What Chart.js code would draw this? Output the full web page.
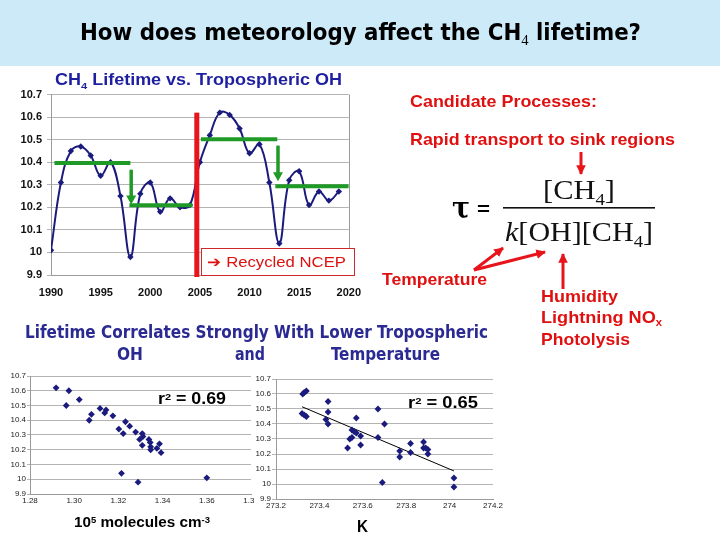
<!DOCTYPE html>
<html><head><meta charset="utf-8">
<script src="https://cdn.jsdelivr.net/npm/chart.js@4.4.0/dist/chart.umd.min.js"></script>
<style>
html,body{margin:0;padding:0;background:#fff;}
#slide{position:relative;width:720px;height:540px;overflow:hidden;background:#fff;font-family:Arial,"Liberation Sans",sans-serif;}
#band{position:absolute;left:0;top:0;width:720px;height:66px;background:#cdeaf9;}
canvas{position:absolute;}
.t{position:absolute;white-space:nowrap;transform-origin:0 50%;line-height:1.2;}
.sub{font-size:0.62em;position:relative;top:0.32em;line-height:0;}
.sup{font-size:0.62em;position:relative;top:-0.45em;line-height:0;}
#ncep{position:absolute;left:201px;top:248px;width:152px;height:26px;border:1.5px solid #cc2a2a;background:#fff;}
svg{position:absolute;left:0;top:0;}
</style></head><body>
<div id="slide">
  <div id="band"></div>
  <canvas id="main" width="372" height="217" style="left:0;top:83px"></canvas>
  <canvas id="sc1" width="262" height="142" style="left:0;top:366px"></canvas>
  <canvas id="sc2" width="258" height="144" style="left:254px;top:369px;background:#fff"></canvas>
  <div id="ncep"></div>
  <svg width="720" height="540" viewBox="0 0 720 540">
    <defs>
      <marker id="ah" viewBox="0 0 10 10" refX="9" refY="5" markerWidth="3.2" markerHeight="3.2" orient="auto">
        <path d="M0,0 L10,5 L0,10 z" fill="#e8141b"/>
      </marker>
    </defs>
    <g stroke="#e8141b" stroke-width="3" fill="none" marker-end="url(#ah)">
      <line x1="581" y1="152" x2="581" y2="174"/>
      <line x1="474" y1="270" x2="503" y2="248"/>
      <line x1="474" y1="270" x2="545" y2="252"/>
      <line x1="563" y1="289" x2="563" y2="254"/>
    </g>
    <rect x="503" y="207" width="152" height="1.6" fill="#111"/>
  </svg>
</div>
<script>
// ---------- DATA ----------
const years = [1990,1991,1992,1993,1994,1995,1996,1997,1998,1999,2000,2001,2002,2003,2004,2005,2006,2007,2008,2009,2010,2011,2012,2013,2014,2015,2016,2017,2018,2019];
const lifetime = [10.01,10.31,10.45,10.47,10.43,10.34,10.40,10.25,9.98,10.26,10.31,10.18,10.24,10.20,10.21,10.40,10.52,10.62,10.61,10.55,10.44,10.48,10.31,10.04,10.32,10.36,10.21,10.27,10.23,10.27];
const periodStart = [1990.35, 1997.9, 2005.1, 2012.6];
const periodEnd   = [1998.0, 2004.25, 2012.8, 2020];
const periodMean  = [10.397, 10.209, 10.502, 10.294];
const shiftYear = [1998.08, 2012.87];
const shiftFrom = [10.367, 10.474];
const shiftTo   = [10.213, 10.316];
const ncepYear = 2004.69;
const ncepTop = 10.62;
const mainXTicks = [1990,1995,2000,2005,2010,2015,2020];
const mainYTicks = [9.9,10.0,10.1,10.2,10.3,10.4,10.5,10.6,10.7];
const mainYLabels = ['9.9','10','10.1','10.2','10.3','10.4','10.5','10.6','10.7'];

const ohConc = [1.2918,1.2976,1.2964,1.3023,1.3117,1.3138,1.3144,1.3078,1.3068,1.3175,1.3202,1.3232,1.3251,1.3222,1.3278,1.3308,1.3311,1.3296,1.3338,1.3344,1.3308,1.3346,1.3346,1.3374,1.3386,1.3393,1.3214,1.3289,1.3600];
const ohLifetime = [10.62,10.60,10.50,10.54,10.48,10.45,10.47,10.44,10.40,10.43,10.34,10.39,10.36,10.31,10.32,10.31,10.29,10.27,10.27,10.25,10.23,10.22,10.20,10.21,10.24,10.18,10.04,9.98,10.01];
const ohTicks = [1.28,1.30,1.32,1.34,1.36,1.38];
const ohTickLabels = ['1.28','1.30','1.32','1.34','1.36','1.38'];

const temperature = [273.323,273.33,273.34,273.32,273.33,273.34,273.44,273.44,273.43,273.44,273.53,273.54,273.55,273.55,273.56,273.57,273.57,273.59,273.59,273.67,273.67,273.70,273.69,273.77,273.77,273.82,273.82,273.88,273.88,273.89,273.90,273.90,274.02,274.02];
const tLifetime = [10.60,10.61,10.62,10.47,10.46,10.45,10.55,10.48,10.43,10.40,10.24,10.30,10.31,10.36,10.35,10.34,10.44,10.32,10.26,10.50,10.31,10.40,10.01,10.22,10.18,10.27,10.21,10.28,10.24,10.24,10.23,10.20,10.04,9.98];
const trendX = [273.32, 274.02];
const trendY = [10.515, 10.087];
const tTicks = [273.2,273.4,273.6,273.8,274.0,274.2];
const tTickLabels = ['273.2','273.4','273.6','273.8','274','274.2'];

const scYTicks = mainYTicks;
const scYLabels = mainYLabels;

// ---------- STYLE ----------
const NAVY = '#1b1b7d';
const GREEN = '#1f9a26';
const RED = '#e8141b';
const GRID = '#b4b4b4';

// ---------- MAIN CHART ----------
const mainPlugin = {
  id:'mainDecor',
  afterDatasetsDraw(chart){
    const {ctx, chartArea:a, scales:{x, y}} = chart;
    ctx.save();
    // right frame
    ctx.strokeStyle = '#9a9a9a'; ctx.lineWidth = 1;
    ctx.beginPath(); ctx.moveTo(Math.round(a.right)+0.5, a.top); ctx.lineTo(Math.round(a.right)+0.5, a.bottom); ctx.stroke();
    // green shift arrows
    ctx.strokeStyle = GREEN; ctx.fillStyle = GREEN; ctx.lineWidth = 3.5;
    shiftYear.forEach((yr, i) => {
      const px = x.getPixelForValue(yr);
      const y1 = y.getPixelForValue(shiftFrom[i]);
      const y2 = y.getPixelForValue(shiftTo[i]);
      ctx.beginPath(); ctx.moveTo(px, y1); ctx.lineTo(px, y2 - 8); ctx.stroke();
      ctx.beginPath(); ctx.moveTo(px - 5, y2 - 9); ctx.lineTo(px + 5, y2 - 9); ctx.lineTo(px, y2); ctx.closePath(); ctx.fill();
    });
    // red NCEP bar
    const bx = x.getPixelForValue(ncepYear);
    const by = y.getPixelForValue(ncepTop);
    ctx.fillStyle = RED;
    ctx.fillRect(bx - 2.5, by, 5, a.bottom + 2 - by);
    ctx.restore();
  }
};

const levelSets = periodStart.map((s, i) => ({
  data: [{x:s, y:periodMean[i]}, {x:periodEnd[i], y:periodMean[i]}],
  borderColor: GREEN, borderWidth: 4, pointRadius: 0, tension: 0, order: 0, borderCapStyle:'butt'
}));

new Chart(document.getElementById('main'), {
  type: 'line',
  data: { datasets: [
    { data: years.map((yr, i) => ({x: yr, y: lifetime[i]})), borderColor: NAVY, backgroundColor: NAVY,
      borderWidth: 2, tension: 0.4, pointStyle: 'rectRot', pointRadius: 3.2, pointBorderWidth: 0, order: 1 },
    ...levelSets
  ]},
  options: {
    responsive: false, animation: false,
    layout: { padding: { top: 10, right: 17, left: 0, bottom: 0 } },
    plugins: { legend: { display: false }, tooltip: { enabled: false } },
    scales: {
      x: { type: 'linear', min: 1990, max: 2020,
        afterBuildTicks: s => { s.ticks = mainXTicks.map(v => ({value: v})); },
        afterFit: s => { s.height = 25; },
        grid: { display: false, drawTicks: false },
        border: { color: '#9a9a9a' },
        ticks: { font: { size: 11, weight: 'bold', family: 'Arial' }, color: '#111', padding: 11, maxRotation: 0, autoSkip: false, callback: v => String(v) } },
      y: { min: 9.9, max: 10.7,
        afterBuildTicks: s => { s.ticks = mainYTicks.map(v => ({value: v})); },
        afterFit: s => { s.width = 51; },
        grid: { color: GRID, tickLength: 4 },
        border: { color: '#9a9a9a' },
        ticks: { font: { size: 11, weight: 'bold', family: 'Arial' }, color: '#111', padding: 5, autoSkip: false, callback: (v, i) => mainYLabels[i] } }
    }
  },
  plugins: [mainPlugin]
});

// ---------- SCATTERS ----------
function scatterOpts(xmin, xmax, xt, xl, yw, padRight, tickLen){
  return {
    responsive: false, animation: false,
    layout: { padding: { top: 10, right: padRight, left: 0, bottom: 0 } },
    plugins: { legend: { display: false }, tooltip: { enabled: false } },
    scales: {
      x: { type: 'linear', min: xmin, max: xmax,
        afterBuildTicks: s => { s.ticks = xt.map(v => ({value: v})); },
        afterFit: s => { s.height = 14; },
        grid: { display: false, drawTicks: false },
        border: { color: '#9a9a9a' },
        ticks: { font: { size: 8, family: 'Arial' }, color: '#222', padding: 2, maxRotation: 0, autoSkip: false, callback: (v, i) => xl[i] } },
      y: { min: 9.9, max: 10.7,
        afterBuildTicks: s => { s.ticks = scYTicks.map(v => ({value: v})); },
        afterFit: s => { s.width = yw; },
        grid: { color: GRID, tickLength: tickLen },
        border: { color: '#9a9a9a' },
        ticks: { font: { size: 8, family: 'Arial' }, color: '#222', padding: 1, autoSkip: false, callback: (v, i) => scYLabels[i] } }
    }
  };
}

new Chart(document.getElementById('sc1'), {
  type: 'scatter',
  data: { datasets: [{ data: ohConc.map((v, i) => ({x: v, y: ohLifetime[i]})), pointStyle: 'rectRot', pointRadius: 3.4,
    backgroundColor: NAVY, borderColor: NAVY, pointBorderWidth: 0 }] },
  options: scatterOpts(1.28, 1.38, ohTicks, ohTickLabels, 30, 11, 3)
});

new Chart(document.getElementById('sc2'), {
  type: 'scatter',
  data: { datasets: [
    { data: temperature.map((v, i) => ({x: v, y: tLifetime[i]})), pointStyle: 'rectRot', pointRadius: 3.4,
      backgroundColor: NAVY, borderColor: NAVY, pointBorderWidth: 0, order: 0 },
    { data: trendX.map((v, i) => ({x: v, y: trendY[i]})), showLine: true, borderColor: '#000', borderWidth: 1,
      pointRadius: 0, order: 1 }
  ]},
  options: scatterOpts(273.2, 274.2, tTicks, tTickLabels, 22, 19, 4)
});

// ---------- TEXT ----------
const slide = document.getElementById('slide');
const COND = '"Liberation Sans Narrow","DejaVu Sans Condensed","Arial Narrow",Arial,sans-serif';
const SANS = 'Arial,"Liberation Sans",sans-serif';
const SERIF = '"Liberation Serif","Times New Roman",serif';
function T(html, x, cy, w, size, color, family, weight, style){
  const el = document.createElement('div');
  el.className = 't';
  el.innerHTML = html;
  el.style.fontSize = size + 'px';
  el.style.color = color;
  el.style.fontFamily = family;
  el.style.fontWeight = weight || 'bold';
  if (style) el.style.fontStyle = style;
  el.style.left = x + 'px';
  el.style.top = '0px';
  slide.appendChild(el);
  const r = el.getBoundingClientRect();
  el.style.top = (cy - r.height / 2) + 'px';
  if (w) el.style.transform = 'scaleX(' + (w / r.width) + ')';
  return el;
}
T('How does meteorology affect the CH<span class="sub" style="font-family:' + SERIF.replace(/"/g,"'") + ';font-weight:normal">4</span> lifetime?', 80, 33, 561, 23, '#000', COND);
T('CH<span class="sub">4</span> Lifetime vs. Tropospheric OH', 55, 80, 287, 16, '#1e1ea0', SANS);
T('Candidate Processes:', 410, 102, 187, 17, '#e01010', SANS);
T('Rapid transport to sink regions', 410, 140, 265, 17, '#e01010', SANS);
T('Temperature', 382, 280, 105, 17, '#e01010', SANS);
T('Humidity', 541, 297, 77, 17, '#e01010', SANS);
T('Lightning NO<span class="sub">x</span>', 541, 318, 121, 17, '#e01010', SANS);
T('Photolysis', 541, 340, 89, 17, '#e01010', SANS);
T('Lifetime Correlates Strongly With Lower Tropospheric', 25, 332, 463, 18, '#2a2a92', COND);
T('OH', 117, 354, 26, 18, '#2a2a92', COND);
T('and', 235, 354, 30, 18, '#2a2a92', COND);
T('Temperature', 331, 354, 109, 18, '#2a2a92', COND);
T('r<span class="sup">2</span> = 0.69', 158, 399, 68, 16, '#000', SANS);
T('r<span class="sup">2</span> = 0.65', 408, 403, 70, 16, '#000', SANS);
T('10<span class="sup">5</span> molecules cm<span class="sup">-3</span>', 74, 522, 136, 14, '#000', SANS);
T('K', 357, 527, 11, 16, '#000', SANS);
T('\u2794 Recycled NCEP', 207, 262, 139, 15, '#dd1111', SANS, 'normal');
// equation
T('\u03c4', 452, 208, 18, 30, '#000', '"DejaVu Serif",serif');
T('=', 477, 210, 13, 18, '#000', SANS);
T('[CH<span class="sub">4</span>]', 543, 190, 72, 28, '#111', SERIF, 'normal');
T('<i>k</i>[OH][CH<span class="sub">4</span>]', 505, 232, 148, 28, '#111', SERIF, 'normal');
</script>
</body></html>
